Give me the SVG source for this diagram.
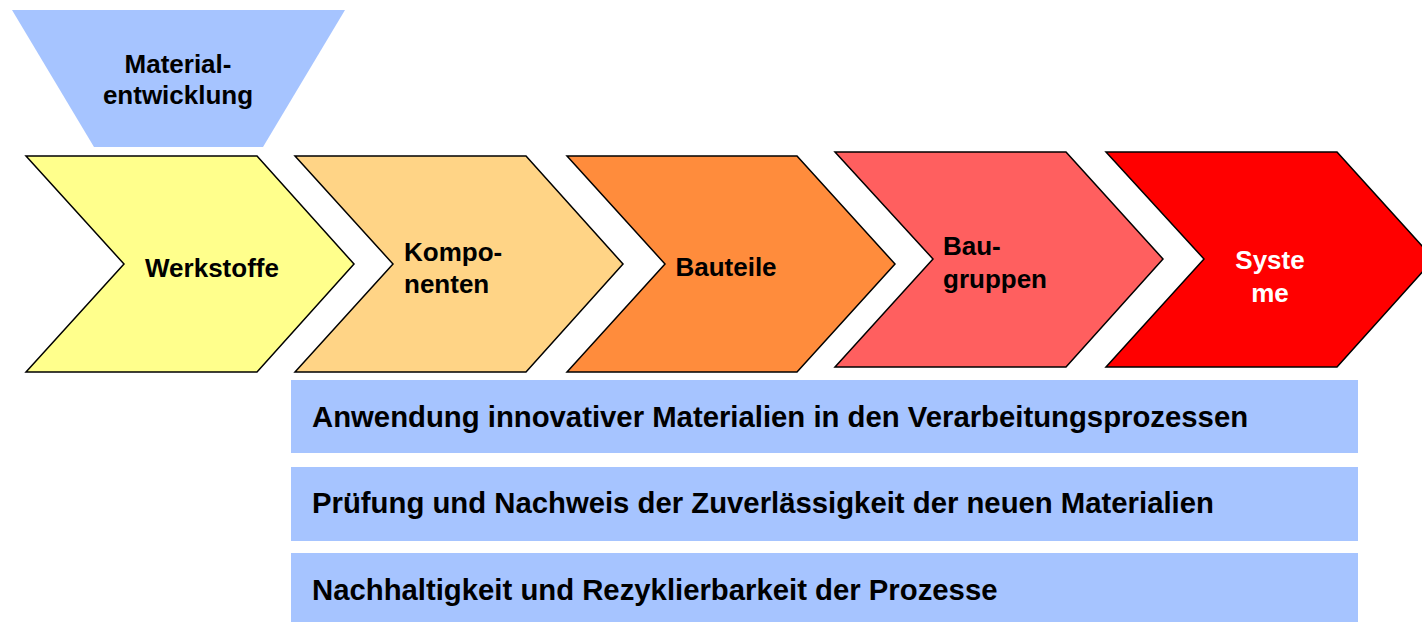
<svg xmlns="http://www.w3.org/2000/svg" width="1422" height="622" viewBox="0 0 1422 622">
  <style>
    text { font-family: "Liberation Sans", Arial, sans-serif; font-weight: bold; font-size: 26px; fill: #000; }
    .topic { font-size: 29.3px; }
    .chev { stroke: #000; stroke-width: 1.5; stroke-linejoin: miter; }
    .blue { fill: #a6c4ff; }
    .white { fill: #fff; }
  </style>
  <rect width="1422" height="622" fill="#fff"/>

  <!-- funnel at the start of the chain -->
  <g id="materialentwicklung">
    <polygon class="blue" points="12,10 345,10 263,147 94,147"/>
    <text x="178" y="73" text-anchor="middle">Material-</text>
    <text x="178" y="104" text-anchor="middle">entwicklung</text>
  </g>

  <!-- process chain chevrons -->
  <g id="werkstoffe">
    <polygon class="chev" fill="#ffff8c" points="26,156 257,156 354,264 257,372 26,372 124,264"/>
    <text x="212" y="277" text-anchor="middle">Werkstoffe</text>
  </g>
  <g id="komponenten">
    <polygon class="chev" fill="#ffd486" points="295,156 526,156 623,264 526,372 295,372 393,264"/>
    <text x="404" y="261">Kompo-</text>
    <text x="404" y="293">nenten</text>
  </g>
  <g id="bauteile">
    <polygon class="chev" fill="#ff8c3c" points="567,156 797,156 895,264 797,372 567,372 665,264"/>
    <text x="726" y="276" text-anchor="middle">Bauteile</text>
  </g>
  <g id="baugruppen">
    <polygon class="chev" fill="#ff5f5f" points="835,152 1066,152 1163,259 1066,367 835,367 933,259"/>
    <text x="943" y="255">Bau-</text>
    <text x="943" y="288">gruppen</text>
  </g>
  <g id="systeme">
    <polygon class="chev" fill="#ff0000" points="1106,152 1337,152 1434,259 1337,367 1106,367 1204,259"/>
    <text class="white" x="1270" y="269" text-anchor="middle">Syste</text>
    <text class="white" x="1270" y="302" text-anchor="middle">me</text>
  </g>

  <!-- focus topics -->
  <g id="anwendung">
    <rect class="blue" x="291" y="380" width="1067" height="73"/>
    <text class="topic" x="312" y="427">Anwendung innovativer Materialien in den Verarbeitungsprozessen</text>
  </g>
  <g id="pruefung">
    <rect class="blue" x="291" y="467" width="1067" height="74"/>
    <text class="topic" x="312" y="513">Prüfung und Nachweis der Zuverlässigkeit der neuen Materialien</text>
  </g>
  <g id="nachhaltigkeit">
    <rect class="blue" x="291" y="553" width="1067" height="69"/>
    <text class="topic" x="312" y="600">Nachhaltigkeit und Rezyklierbarkeit der Prozesse</text>
  </g>

  <g id="connectors"/>
</svg>
